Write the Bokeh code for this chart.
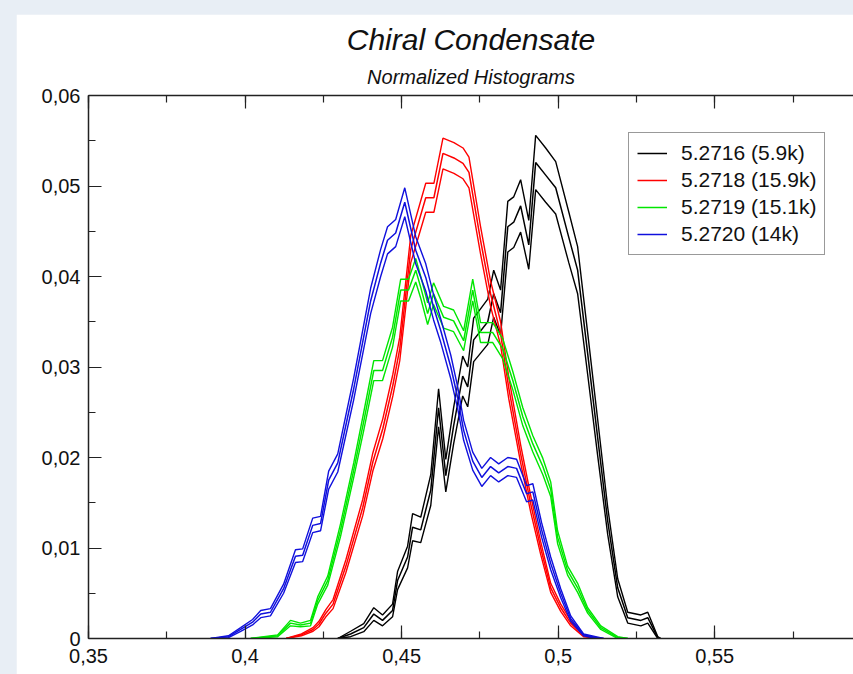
from bokeh.plotting import figure
from bokeh.models import (LinearAxis, CustomJSTickFormatter, Legend, LegendItem, Range1d,
                          SingleIntervalTicker, ColumnDataSource, Title)
from bokeh.layouts import column
from bokeh.embed import file_html
from bokeh.resources import INLINE

# ---------------- data ----------------
labels = ["5.2716 (5.9k)", "5.2718 (15.9k)", "5.2719 (15.1k)", "5.2720 (14k)"]

x_5716 = [0.4296,0.4337,0.4379,0.4411,0.4439,0.4471,0.4487,0.4519,0.4535,0.4561,0.4593,0.4618,0.4641,0.4666,
          0.4695,0.4711,0.4730,0.4775,0.4794,0.4816,0.4839,0.4858,0.4880,0.4906,0.4928,0.4960,0.4992,0.5034,
          0.5062,0.5094,0.5126,0.5158,0.5190,0.5222,0.5264,0.5286,0.5318,0.5327]
y_5716 = [0,0.0005,0.0012,0.0027,0.0020,0.0031,0.0064,0.0090,0.0123,0.0120,0.0164,0.0255,0.0180,0.0235,
          0.0290,0.0278,0.0330,0.0350,0.0381,0.0360,0.0455,0.0460,0.0478,0.0435,0.0526,0.0512,0.0498,0.0443,
          0.0407,0.0315,0.0222,0.0130,0.0056,0.0023,0.0020,0.0023,0.0001,0]
e_5716 = [0,0.0003,0.00045,0.0007,0.0006,0.0007,0.0010,0.0012,0.0015,0.0014,0.0017,0.0021,0.0018,0.0020,
          0.0022,0.0022,0.0024,0.0025,0.0026,0.0025,0.0028,0.0028,0.0029,0.0027,0.0030,0.0030,0.0029,0.0028,
          0.0026,0.0023,0.0020,0.0015,0.0010,0.0006,0.0006,0.0006,0.0001,0]

x_5718 = [0.4131,0.4180,0.4217,0.4236,0.4258,0.4281,0.4322,0.4376,0.4408,0.4440,0.4472,0.4494,0.4529,0.4577,
          0.4603,0.4632,0.4667,0.4696,0.4715,0.4752,0.4784,0.4816,0.4842,0.4880,0.4912,0.4944,0.4976,0.5008,
          0.5040,0.5081,0.5136]
y_5718 = [0,0.0004,0.0010,0.0016,0.0028,0.0038,0.0080,0.0145,0.0195,0.0232,0.0280,0.0320,0.0430,0.0487,
          0.0487,0.0536,0.0531,0.0525,0.0515,0.0440,0.0381,0.0337,0.0277,0.0204,0.0149,0.0100,0.0056,0.0034,
          0.0017,0.0003,0]
e_5718 = [0,0.0001,0.0002,0.0003,0.0004,0.0005,0.0007,0.0009,0.0010,0.0011,0.0012,0.0013,0.0015,0.0016,
          0.0016,0.0017,0.0017,0.0017,0.0017,0.0015,0.0014,0.0013,0.0012,0.0010,0.0009,0.0007,0.0005,0.0004,
          0.0003,0.0001,0]

x_5719 = [0.4018,0.4104,0.4145,0.4177,0.4209,0.4232,0.4264,0.4305,0.4347,0.4379,0.4411,0.4439,0.4471,0.4497,
          0.4522,0.4545,0.4561,0.4583,0.4602,0.4634,0.4666,0.4698,0.4727,0.4752,0.4791,0.4823,0.4855,0.4887,
          0.4919,0.4951,0.4976,0.4998,0.5030,0.5062,0.5094,0.5136,0.5190,0.5222]
y_5719 = [0,0.0003,0.0017,0.0015,0.0017,0.0042,0.0064,0.0120,0.0186,0.0240,0.0296,0.0296,0.0333,0.0385,
          0.0385,0.0407,0.0388,0.0359,0.0381,0.0355,0.0351,0.0329,0.0385,0.0338,0.0338,0.0320,0.0285,0.0245,
          0.0215,0.0190,0.0165,0.0112,0.0075,0.0056,0.0031,0.0012,0.0001,0]
e_5719 = [0,0.0001,0.0003,0.0002,0.0003,0.0004,0.0005,0.0007,0.0008,0.0010,0.0011,0.0011,0.0011,0.0012,
          0.0012,0.0013,0.0012,0.0012,0.0012,0.0012,0.0012,0.0011,0.0012,0.0011,0.0011,0.0011,0.0010,0.0010,
          0.0009,0.0009,0.0008,0.0007,0.0005,0.0005,0.0003,0.0002,0.0001,0]

x_5720 = [0.3890,0.3947,0.3986,0.4024,0.4050,0.4081,0.4123,0.4161,0.4184,0.4216,0.4241,0.4267,0.4296,0.4347,
          0.4401,0.4433,0.4455,0.4481,0.4510,0.4545,0.4577,0.4602,0.4625,0.4657,0.4679,0.4698,0.4727,0.4756,
          0.4784,0.4810,0.4839,0.4867,0.4899,0.4919,0.4947,0.4976,0.5008,0.5040,0.5081,0.5120,0.5145]
y_5720 = [0,0.0002,0.0010,0.0018,0.0027,0.0029,0.0055,0.0091,0.0092,0.0125,0.0127,0.0175,0.0194,0.0276,
          0.0373,0.0415,0.0440,0.0448,0.0482,0.0429,0.0399,0.0366,0.0340,0.0300,0.0266,0.0230,0.0196,0.0178,
          0.0190,0.0183,0.0190,0.0188,0.0160,0.0162,0.0120,0.0083,0.0050,0.0022,0.0004,0.0001,0]
e_5720 = [0,0.0001,0.0002,0.0003,0.0004,0.0004,0.0005,0.0007,0.0007,0.0008,0.0008,0.0010,0.0010,0.0012,
          0.0014,0.0015,0.0015,0.0015,0.0016,0.0015,0.0015,0.0014,0.0013,0.0013,0.0012,0.0011,0.0010,0.0010,
          0.0010,0.0010,0.0010,0.0010,0.0009,0.0009,0.0008,0.0007,0.0005,0.0003,0.0001,0.0001,0]

series = [
    (labels[0], x_5716, y_5716, e_5716, "#000000"),
    (labels[1], x_5718, y_5718, e_5718, "#ff0000"),
    (labels[2], x_5719, y_5719, e_5719, "#00e600"),
    (labels[3], x_5720, y_5720, e_5720, "#1010dd"),
]

FONT = "Liberation Sans"

# ---------------- figure ----------------
p = figure(width=837, height=660, x_range=Range1d(0.35, 0.5943), y_range=Range1d(0, 0.06),
           output_backend="svg", toolbar_location=None,
           min_border_left=72, min_border_right=0, min_border_top=81, min_border_bottom=36)
p.margin = (14, 0, 0, 16)
p.outline_line_color = None
p.xgrid.visible = False
p.ygrid.visible = False
p.background_fill_color = "white"
p.border_fill_color = "white"

xb = p.below[0]
yl = p.left[0]

fmt = CustomJSTickFormatter(code="var s=(Math.round(tick*1000)/1000).toString(); return s.replace('.', ',');")

xb.ticker = SingleIntervalTicker(interval=0.05, num_minor_ticks=2)
yl.ticker = SingleIntervalTicker(interval=0.01, num_minor_ticks=2)
xb.formatter = fmt
yl.formatter = fmt

top = LinearAxis(ticker=SingleIntervalTicker(interval=0.05, num_minor_ticks=2),
                 formatter=CustomJSTickFormatter(code="return '';"))
top.major_label_text_font_size = "1px"
top.major_label_standoff = 0
p.add_layout(top, "above")

for ax in [xb, yl, top]:
    ax.axis_line_color = "#222222"
    ax.axis_line_width = 1.5
    ax.major_tick_in = 13
    ax.major_tick_out = 0
    ax.minor_tick_in = 7
    ax.minor_tick_out = 0
    ax.major_tick_line_color = "#222222"
    ax.minor_tick_line_color = "#222222"
    ax.major_tick_line_width = 1.2
    ax.minor_tick_line_width = 1.2
for ax in [xb, yl]:
    ax.major_label_text_font = FONT
    ax.major_label_text_font_size = "20px"
    ax.major_label_text_color = "#111111"
yl.major_label_standoff = 8
xb.major_label_standoff = 10

items = []
for name, xs, ys, es, col in series:
    src = ColumnDataSource(dict(x=xs, y=ys,
                                up=[a + b for a, b in zip(ys, es)],
                                lo=[a - b for a, b in zip(ys, es)]))
    p.line("x", "up", source=src, line_color=col, line_width=1.4)
    p.line("x", "lo", source=src, line_color=col, line_width=1.4)
    r_c = p.line("x", "y", source=src, line_color=col, line_width=1.5)
    items.append(LegendItem(label=name, renderers=[r_c]))

legend = Legend(items=items, location=(540, 383))
legend.label_text_font = FONT
legend.label_text_font_size = "21px"
legend.label_text_color = "#111111"
legend.glyph_width = 30
legend.glyph_height = 24
legend.label_height = 24
legend.spacing = 3
legend.padding = 8
legend.label_standoff = 14
legend.border_line_color = "#333333"
legend.border_line_width = 1.5
legend.background_fill_color = "white"
legend.background_fill_alpha = 1.0
p.add_layout(legend)

sub = Title(text="Normalized Histograms", align="center", text_font=FONT, text_font_size="20px",
            text_font_style="italic", text_color="#111111", standoff=16, offset=0)
main = Title(text="Chiral Condensate", align="center", text_font=FONT, text_font_size="30px",
             text_font_style="italic", text_color="#111111", standoff=0, offset=0)
p.add_layout(sub, "above")
p.add_layout(main, "above")

layout = column(p, styles={"background-color": "#e8eef5"}, width=853, height=674)

open("out.html", "w").write(file_html(layout, INLINE))
